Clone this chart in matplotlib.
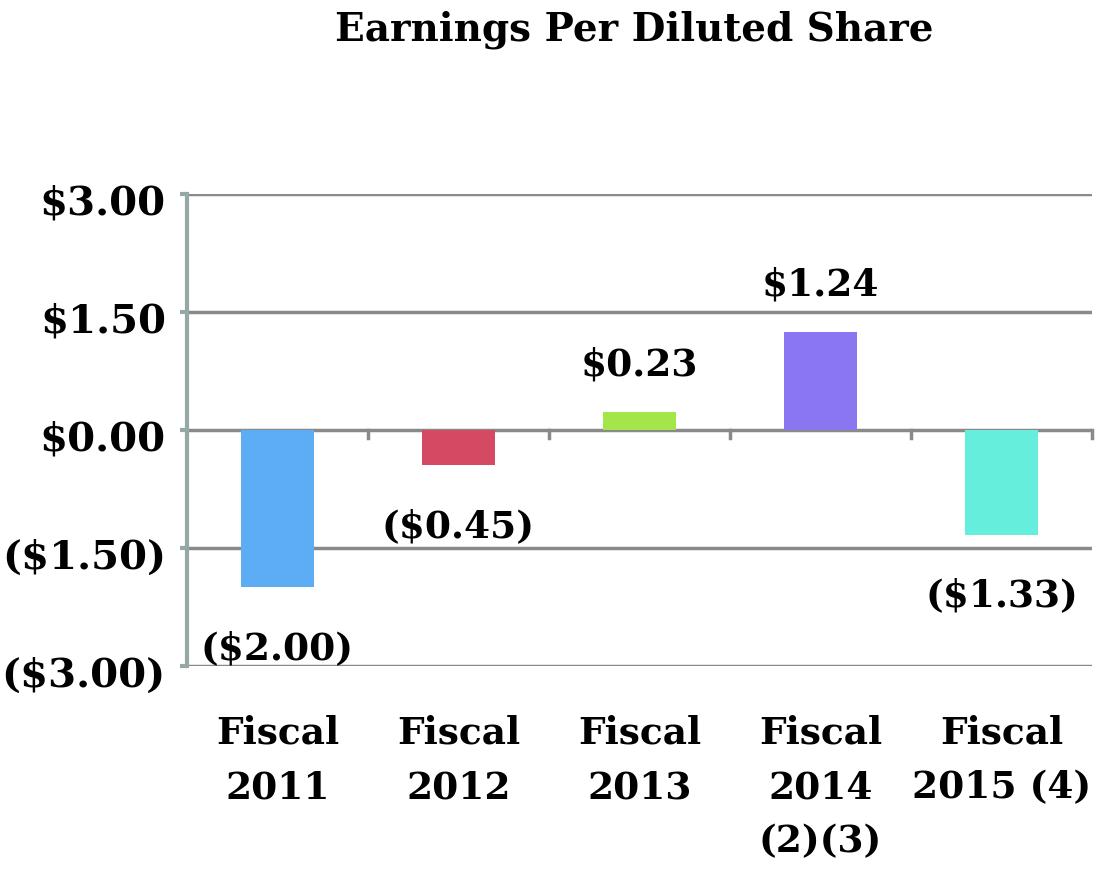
import matplotlib.pyplot as plt
import matplotlib.transforms as mtransforms
import numpy as np

categories = ['Fiscal\n2011', 'Fiscal\n2012', 'Fiscal\n2013', 'Fiscal\n2014\n(2)(3)', 'Fiscal\n2015 (4)']
eps = [-2.00, -0.45, 0.23, 1.24, -1.33]
bar_labels = ['($2.00)', '($0.45)', '$0.23', '$1.24', '($1.33)']
colors = ['#5dadf5', '#d44a62', '#a3e64a', '#8b76f2', '#66eedc']
yticks = [-3.0, -1.5, 0.0, 1.5, 3.0]
ytick_labels = ['($3.00)', '($1.50)', '$0.00', '$1.50', '$3.00']

plt.rcParams['font.family'] = 'DejaVu Serif'
plt.rcParams['font.weight'] = 'bold'

fig = plt.figure(figsize=(10.99, 8.77), dpi=100)
ax = fig.add_axes([0.170, 0.2406, 0.8236, 0.5384])

x = np.arange(len(eps))
ax.bar(x, eps, width=0.4, color=colors, zorder=3)

ax.set_xlim(-0.5, len(eps) - 0.5)
ax.set_ylim(-3, 3)

# gridlines
for y in yticks:
    ax.axhline(y, color='#8a8a8a', lw=2.5, zorder=1)

# zero axis tick marks at category boundaries
for b in np.arange(len(eps)) + 0.5:
    ax.plot([b, b], [0, -0.1], color='#8a8a8a', lw=2.5, zorder=1, clip_on=False)

for s in ['top', 'right', 'bottom']:
    ax.spines[s].set_visible(False)
ax.spines['left'].set_color('#95a8a6')
ax.spines['left'].set_linewidth(3)

ax.set_yticks(yticks, ytick_labels, fontsize=29, fontweight='bold')
ax.tick_params(axis='y', length=5, width=3, color='#95a8a6', pad=10)
shift = mtransforms.ScaledTranslation(0, -6 / 100, fig.dpi_scale_trans)
for lab in ax.get_yticklabels():
    lab.set_transform(lab.get_transform() + shift)

ax.set_xticks(x, categories, fontsize=27, fontweight='bold', linespacing=1.6)
ax.tick_params(axis='x', length=0, pad=35)

for xi, v, lab in zip(x, eps, bar_labels):
    off = 34 if v > 0 else -44
    ax.annotate(lab, (xi, v), xytext=(0, off), textcoords='offset points',
                ha='center', va='center', fontsize=27, fontweight='bold')

fig.text(0.577, 0.966, 'Earnings Per Diluted Share', ha='center', va='center',
         fontsize=28, fontweight='bold')

fig.savefig('out.png', dpi=100)
